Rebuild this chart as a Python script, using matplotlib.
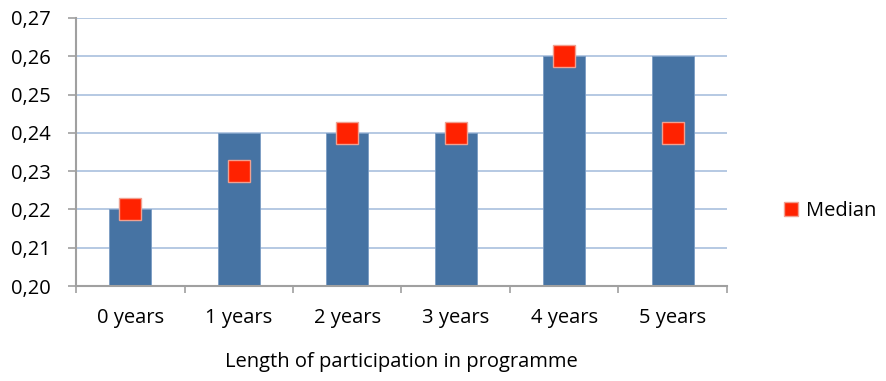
import matplotlib.pyplot as plt
from matplotlib.ticker import FuncFormatter

categories = ['0 years', '1 years', '2 years', '3 years', '4 years', '5 years']
bar_values = [0.22, 0.24, 0.24, 0.24, 0.26, 0.26]
median_values = [0.22, 0.23, 0.24, 0.24, 0.26, 0.24]

plt.rcParams['font.family'] = ['Open Sans', 'DejaVu Sans']

fig = plt.figure(figsize=(8.86, 3.81), dpi=100)
ax = fig.add_axes([0.0858, 0.2493, 0.7347, 0.7035])

x = range(len(categories))
ax.bar(x, [v - 0.20 for v in bar_values], bottom=0.20, width=0.39,
       color='#4673A3', edgecolor='#7A9CC4', linewidth=0.6, zorder=2)
ax.plot(x, median_values, linestyle='none', marker='s', markersize=16,
        color='#FF2200', markeredgecolor='#F0A090', markeredgewidth=1.0,
        label='Median', zorder=3)

ax.set_xlim(-0.5, len(categories) - 0.5)
ax.set_ylim(0.20, 0.27)
ax.set_yticks([0.20 + 0.01 * i for i in range(8)])
ax.yaxis.set_major_formatter(FuncFormatter(lambda v, p: f'{v:.2f}'.replace('.', ',')))
ax.set_xticks(list(x))
ax.set_xticklabels(categories)
ax.set_xticks([i - 0.5 for i in range(len(categories) + 1)], minor=True)
ax.tick_params(axis='x', which='major', length=0, pad=16, labelsize=14.5)
ax.tick_params(axis='x', which='minor', length=5, color='#A0A0A0', width=1.2)
ax.tick_params(axis='y', length=6, color='#A0A0A0', width=1.2, labelsize=14.5, pad=12)

ax.grid(axis='y', color='#A9C0DE', linewidth=1.2, zorder=0)
for side in ['top', 'right']:
    ax.spines[side].set_visible(False)
for side in ['left', 'bottom']:
    ax.spines[side].set_color('#A0A0A0')
    ax.spines[side].set_linewidth(1.5)

ax.set_xlabel('Length of participation in programme', fontsize=14.5, labelpad=17)

fig.legend(loc='center left', bbox_to_anchor=(0.882, 0.445), frameon=False,
           borderpad=0, borderaxespad=0, fontsize=14.5, markerscale=0.62,
           handletextpad=0.3, handlelength=0.9)

fig.savefig('out.png', dpi=100)
